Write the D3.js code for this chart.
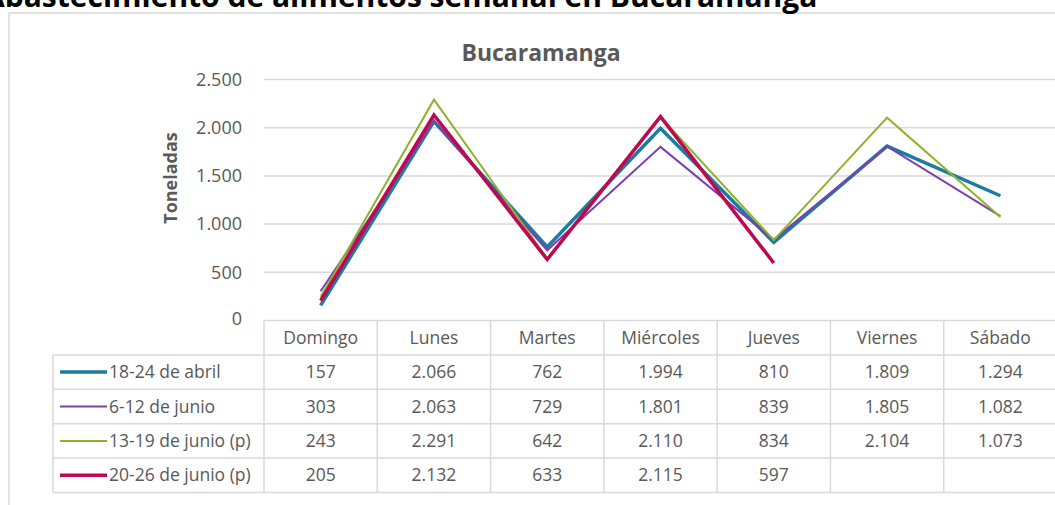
<!DOCTYPE html>
<html>
<head>
<meta charset="utf-8">
<script src="https://cdn.jsdelivr.net/npm/d3@7"></script>
<style>
  body { margin: 0; background: #fff; overflow: hidden; }
  svg { display: block; font-family: "Open Sans", "Noto Sans", sans-serif; }
</style>
</head>
<body>
<svg id="chart" width="1055" height="505"></svg>
<script>
// data
var days = ["Domingo", "Lunes", "Martes", "Miércoles", "Jueves", "Viernes", "Sábado"];
var weeks = ["18-24 de abril", "6-12 de junio", "13-19 de junio (p)", "20-26 de junio (p)"];
var abril18 = [157, 2066, 762, 1994, 810, 1809, 1294];
var junio6 = [303, 2063, 729, 1801, 839, 1805, 1082];
var junio13 = [243, 2291, 642, 2110, 834, 2104, 1073];
var junio20 = [205, 2132, 633, 2115, 597, null, null];
var yTicks = [0, 500, 1000, 1500, 2000, 2500];

var colors = ["#1b7c9f", "#7b3fae", "#8db32c", "#c0084f"];
var widths = [3.5, 2, 2, 3.5];
var series = [abril18, junio6, junio13, junio20];

var es = d3.formatLocale({decimal: ",", thousands: ".", grouping: [3], currency: ["$", ""]});
var fmt = es.format(",d");

var svg = d3.select("#chart");
var plotLeft = 264, plotRight = 1057, plotTop = 79.5, plotBottom = 320.5;
var rowH = 34.4, legendLeft = 53;

var x = d3.scaleBand().domain(days).range([plotLeft, plotRight]);
var y = d3.scaleLinear().domain([0, 2500]).range([plotBottom, plotTop]);

// outer chart frame
svg.append("rect")
  .attr("x", 9).attr("y", 13).attr("width", 1100).attr("height", 600)
  .attr("fill", "none").attr("stroke", "#d9d9d9").attr("stroke-width", 1.5);

// page title, cut at the top of the picture
svg.append("text")
  .attr("x", -16).attr("y", 7)
  .attr("font-size", 30).attr("font-weight", "bold").attr("fill", "#000")
  .text("Abastecimiento de alimentos semanal en Bucaramanga");

svg.append("text")
  .attr("x", 541).attr("y", 61).attr("text-anchor", "middle")
  .attr("font-size", 23).attr("font-weight", "bold").attr("fill", "#595959")
  .text("Bucaramanga");

// gridlines
svg.append("g").selectAll("line")
  .data(yTicks.filter(function(d) { return d > 0; }))
  .enter().append("line")
  .attr("x1", plotLeft).attr("x2", 1055)
  .attr("y1", function(d) { return y(d); }).attr("y2", function(d) { return y(d); })
  .attr("stroke", "#d9d9d9").attr("stroke-width", 1.5);

// y axis labels
var yAxis = d3.axisLeft(y).tickValues(yTicks).tickFormat(fmt).tickSize(0).tickPadding(0);
var ya = svg.append("g").attr("transform", "translate(242,0)").call(yAxis);
ya.select(".domain").remove();
ya.selectAll("text")
  .attr("font-size", 18).attr("fill", "#595959")
  .attr("font-family", "'Open Sans', 'Noto Sans', sans-serif");
ya.selectAll(".tick").filter(function(d) { return d === 0; })
  .select("text").attr("dy", "0.2em");

svg.append("text")
  .attr("transform", "translate(177,178) rotate(-90)")
  .attr("text-anchor", "middle")
  .attr("font-size", 18).attr("font-weight", "bold").attr("fill", "#595959")
  .text("Toneladas");

// lines
var line = d3.line()
  .defined(function(d) { return d != null; })
  .x(function(d, i) { return x(days[i]) + x.bandwidth() / 2; })
  .y(function(d) { return y(d); });

svg.append("g").selectAll("path")
  .data(series)
  .enter().append("path")
  .attr("d", line)
  .attr("fill", "none")
  .attr("stroke", function(d, i) { return colors[i]; })
  .attr("stroke-width", function(d, i) { return widths[i]; })
  .attr("stroke-linejoin", "miter");

// data table
var table = svg.append("g").attr("stroke", "#d9d9d9").attr("stroke-width", 1.5);
var tBottom = plotBottom + rowH * 5;
table.append("line").attr("x1", plotLeft).attr("x2", 1055).attr("y1", plotBottom).attr("y2", plotBottom);
for (var r = 1; r <= 5; r++) {
  table.append("line").attr("x1", legendLeft).attr("x2", 1055)
    .attr("y1", plotBottom + rowH * r).attr("y2", plotBottom + rowH * r);
}
table.append("line").attr("x1", legendLeft).attr("x2", legendLeft)
  .attr("y1", plotBottom + rowH).attr("y2", tBottom);
days.forEach(function(d) {
  table.append("line").attr("x1", x(d)).attr("x2", x(d))
    .attr("y1", plotBottom).attr("y2", tBottom);
});

var cells = svg.append("g").attr("font-size", 17.5).attr("fill", "#595959").attr("text-anchor", "middle");
cells.selectAll("text.head").data(days).enter().append("text")
  .attr("class", "head")
  .attr("x", function(d) { return x(d) + x.bandwidth() / 2; })
  .attr("y", plotBottom + rowH / 2).attr("dy", "0.35em")
  .text(function(d) { return d; });

series.forEach(function(s, si) {
  var cy = plotBottom + rowH * (si + 1.5);
  cells.selectAll("text.r" + si).data(s).enter().append("text")
    .attr("class", "r" + si)
    .attr("x", function(d, i) { return x(days[i]) + x.bandwidth() / 2; })
    .attr("y", cy).attr("dy", "0.35em")
    .text(function(d) { return d == null ? "" : fmt(d); });
  svg.append("line")
    .attr("x1", 60).attr("x2", 107).attr("y1", cy).attr("y2", cy)
    .attr("stroke", colors[si]).attr("stroke-width", widths[si]);
  svg.append("text")
    .attr("x", 109).attr("y", cy).attr("dy", "0.35em")
    .attr("font-size", 17.5).attr("fill", "#595959")
    .text(weeks[si]);
});
</script>
</body>
</html>
